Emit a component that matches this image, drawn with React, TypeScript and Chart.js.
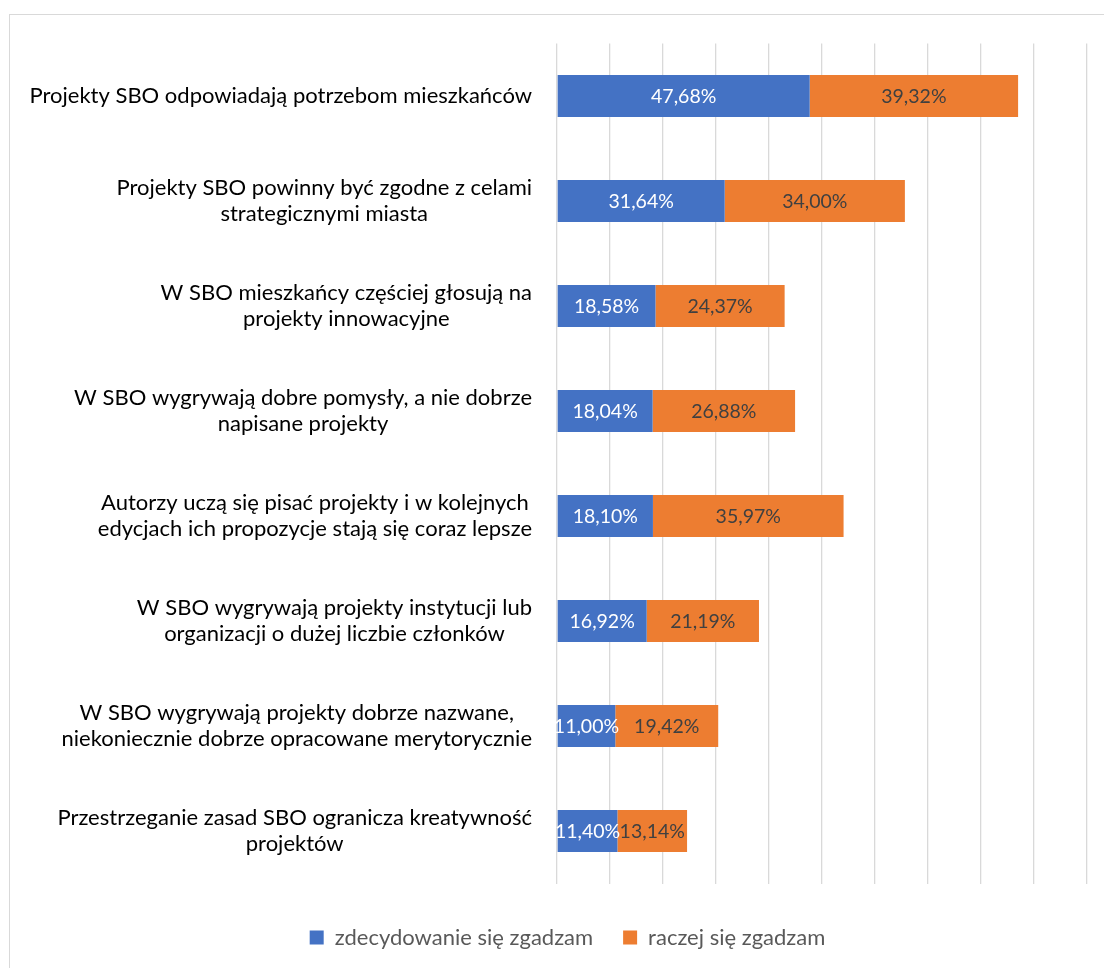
import React, { useEffect, useRef } from "react";
import { Chart, registerables } from "chart.js";

Chart.register(...registerables);

const categories: string[][] = [
  ["Projekty SBO odpowiadają potrzebom mieszkańców"],
  ["Projekty SBO powinny być zgodne z celami", "strategicznymi miasta"],
  ["W SBO mieszkańcy częściej głosują na", "projekty innowacyjne"],
  ["W SBO wygrywają dobre pomysły, a nie dobrze", "napisane projekty"],
  ["Autorzy uczą się pisać projekty i w kolejnych", "edycjach ich propozycje stają się coraz lepsze"],
  ["W SBO wygrywają projekty instytucji lub", "organizacji o dużej liczbie członków"],
  ["W SBO wygrywają projekty dobrze nazwane,", "niekoniecznie dobrze opracowane merytorycznie"],
  ["Przestrzeganie zasad SBO ogranicza kreatywność", "projektów"],
];

const stronglyAgree: number[] = [47.68, 31.64, 18.58, 18.04, 18.1, 16.92, 11.0, 11.4];
const ratherAgree: number[] = [39.32, 34.0, 24.37, 26.88, 35.97, 21.19, 19.42, 13.14];

const seriesNames: string[] = ["zdecydowanie się zgadzam", "raczej się zgadzam"];
const seriesColors: string[] = ["#4472C4", "#ED7D31"];
const labelColors: string[] = ["#FFFFFF", "#404040"];

const xMin = 0;
const xMax = 100;
const xStep = 10;

const FONT = "Lato";
const FONT_SIZE = 22;
const DATA_FONT_SIZE = 19.5;
const LINE_H = 26;

const fmt = (v: number) => v.toFixed(2).replace(".", ",") + "%";

const yLabelsPlugin = {
  id: "yLabelsPlugin",
  afterDraw(chart: any) {
    const ctx = chart.ctx;
    const yScale = chart.scales.y;
    const right = chart.chartArea.left - 25;
    ctx.save();
    ctx.font = `${FONT_SIZE}px ${FONT}`;
    ctx.fillStyle = "#000000";
    ctx.textAlign = "center";
    ctx.textBaseline = "middle";
    categories.forEach((lines, i) => {
      const yc = yScale.getPixelForValue(i);
      const maxW = Math.max(...lines.map((l) => ctx.measureText(l).width));
      const cx = right - maxW / 2;
      lines.forEach((line, j) => {
        const y = yc + (j - (lines.length - 1) / 2) * LINE_H;
        ctx.fillText(line, cx, y);
      });
    });
    ctx.restore();
  },
};

const dataLabelsPlugin = {
  id: "dataLabelsPlugin",
  afterDatasetsDraw(chart: any) {
    const ctx = chart.ctx;
    ctx.save();
    ctx.font = `${DATA_FONT_SIZE}px ${FONT}`;
    ctx.textAlign = "center";
    ctx.textBaseline = "middle";
    chart.data.datasets.forEach((ds: any, di: number) => {
      const meta = chart.getDatasetMeta(di);
      ctx.fillStyle = labelColors[di];
      meta.data.forEach((bar: any, i: number) => {
        const x = (bar.x + bar.base) / 2;
        ctx.fillText(fmt(ds.data[i]), x, bar.y + 1);
      });
    });
    ctx.restore();
  },
};

export default function App() {
  const ref = useRef<HTMLCanvasElement | null>(null);

  useEffect(() => {
    if (!ref.current) return;
    const chart = new Chart(ref.current, {
      type: "bar",
      data: {
        labels: categories.map((c) => c.join(" ")),
        datasets: [
          {
            label: seriesNames[0],
            data: stronglyAgree,
            backgroundColor: seriesColors[0],
            borderWidth: 0,
            barPercentage: 0.5,
            categoryPercentage: 0.8,
          },
          {
            label: seriesNames[1],
            data: ratherAgree,
            backgroundColor: seriesColors[1],
            borderWidth: 0,
            barPercentage: 0.5,
            categoryPercentage: 0.8,
          },
        ],
      },
      options: {
        indexAxis: "y",
        responsive: false,
        animation: false,
        layout: {
          padding: { left: 38, right: 39, top: 28.5, bottom: 22.5 },
        },
        scales: {
          x: {
            stacked: true,
            min: xMin,
            max: xMax,
            ticks: { display: false, stepSize: xStep },
            grid: { color: "#D9D9D9", lineWidth: 1.3, drawTicks: false },
            border: { display: false },
            afterFit: (s: any) => {
              s.height = 13;
            },
          },
          y: {
            stacked: true,
            ticks: { display: false },
            grid: { display: false, drawTicks: false },
            border: { display: false },
            afterFit: (s: any) => {
              s.width = 509;
            },
          },
        },
        plugins: {
          legend: {
            position: "bottom",
            labels: {
              boxWidth: 14,
              boxHeight: 14,
              padding: 30,
              color: "#595959",
              font: { family: FONT, size: FONT_SIZE },
            },
          },
          tooltip: { enabled: false },
        },
      },
      plugins: [yLabelsPlugin, dataLabelsPlugin],
    });
    return () => chart.destroy();
  }, []);

  return (
    <div
      style={{
        position: "fixed",
        left: 0,
        top: 0,
        width: 1104,
        height: 968,
        overflow: "hidden",
        background: "#FFFFFF",
      }}
    >
      <div
        style={{
          position: "absolute",
          left: 9,
          top: 14,
          width: 1118,
          height: 968,
          border: "1px solid #D9D9D9",
          boxSizing: "border-box",
        }}
      >
        <canvas ref={ref} width={1116} height={966} style={{ display: "block" }} />
      </div>
    </div>
  );
}
